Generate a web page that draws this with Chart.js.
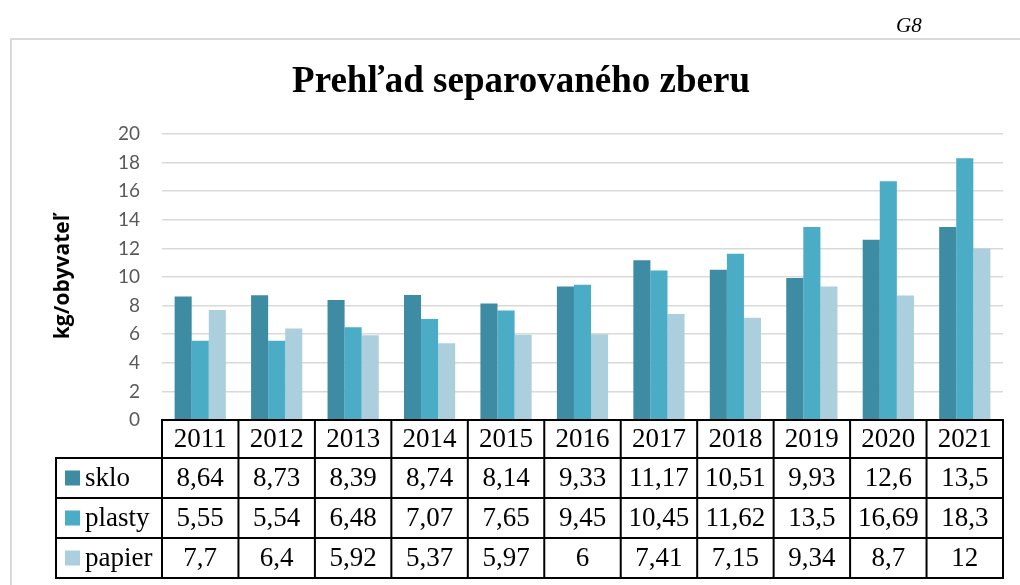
<!DOCTYPE html>
<html><head><meta charset="utf-8">
<script src="https://cdn.jsdelivr.net/npm/chart.js@4"></script>
<style>html,body{margin:0;padding:0;background:#fff;}canvas{display:block;}</style>
</head><body>
<canvas id="c" width="1020" height="585"></canvas>
<script>
const years = ['2011','2012','2013','2014','2015','2016','2017','2018','2019','2020','2021'];
const sklo = [8.64, 8.73, 8.39, 8.74, 8.14, 9.33, 11.17, 10.51, 9.93, 12.6, 13.5];
const plasty = [5.55, 5.54, 6.48, 7.07, 7.65, 9.45, 10.45, 11.62, 13.5, 16.69, 18.3];
const papier = [7.7, 6.4, 5.92, 5.37, 5.97, 6, 7.41, 7.15, 9.34, 8.7, 12];
const seriesNames = ['sklo', 'plasty', 'papier'];
const yTicks = [0, 2, 4, 6, 8, 10, 12, 14, 16, 18, 20];
const titleText = 'Prehľad separovaného zberu';
const yTitle = 'kg/obyvateľ';
const colors = ['#3E8CA3', '#4BACC6', '#ABCFDD'];

function fmt(v){ return String(v).replace('.', ','); }

const overlay = {
  id: 'overlay',
  beforeDraw(chart){
    const ctx = chart.ctx;
    ctx.save();
    ctx.fillStyle = '#fff';
    ctx.fillRect(0,0,chart.width,chart.height);
    // frame
    ctx.strokeStyle = '#d9d9d9';
    ctx.lineWidth = 2;
    ctx.beginPath();
    ctx.moveTo(11, 585); ctx.lineTo(11, 39); ctx.lineTo(1020, 39);
    ctx.stroke();
    // G8
    ctx.fillStyle = '#000';
    ctx.font = 'italic 21px "Liberation Serif"';
    ctx.textAlign = 'left'; ctx.textBaseline = 'alphabetic';
    ctx.fillText('G8', 896, 32);
    // title
    ctx.font = 'bold 37px "Liberation Serif"';
    ctx.textAlign = 'center'; ctx.textBaseline = 'middle';
    ctx.fillText(titleText, 521, 82);
    // y axis title
    ctx.save();
    ctx.translate(63, 277);
    ctx.rotate(-Math.PI/2);
    ctx.font = 'bold 21px "Open Sans"';
    ctx.fillText(yTitle, 0, 0);
    ctx.restore();
    ctx.restore();
  },
  afterDraw(chart){
    const ctx = chart.ctx;
    const xs = chart.scales.x;
    const area = chart.chartArea;
    const n = years.length;
    const w = (area.right - area.left) / n;
    const top = area.bottom;
    const rows = [top, top + 38, top + 78, top + 118, top + 158];
    const leftX = 56;
    ctx.save();
    ctx.strokeStyle = '#000';
    ctx.lineWidth = 2;
    ctx.beginPath();
    rows.forEach((y, i) => {
      ctx.moveTo(i === 0 ? area.left - 1 : leftX - 1, y);
      ctx.lineTo(area.right + 1, y);
    });
    for (let i = 0; i <= n; i++) {
      const x = xs.getPixelForTick(0) - w/2 + i*w;
      ctx.moveTo(x, rows[0]); ctx.lineTo(x, rows[4]);
    }
    ctx.moveTo(leftX, rows[1]); ctx.lineTo(leftX, rows[4]);
    ctx.stroke();
    ctx.fillStyle = '#000';
    ctx.font = '27px "Liberation Serif"';
    ctx.textAlign = 'center'; ctx.textBaseline = 'middle';
    const data = [sklo, plasty, papier];
    for (let i = 0; i < n; i++) {
      const cx = xs.getPixelForTick(i);
      ctx.fillText(years[i], cx, (rows[0]+rows[1])/2 + 1);
      for (let r = 0; r < 3; r++) {
        ctx.fillText(fmt(data[r][i]), cx, (rows[r+1]+rows[r+2])/2 + 1);
      }
    }
    ctx.textAlign = 'left';
    for (let r = 0; r < 3; r++) {
      const cy = (rows[r+1]+rows[r+2])/2;
      ctx.fillStyle = colors[r];
      ctx.fillRect(65, cy - 7.5, 15, 15);
      ctx.fillStyle = '#000';
      ctx.fillText(seriesNames[r], 85, cy + 1);
    }
    ctx.restore();
  }
};

new Chart(document.getElementById('c'), {
  type: 'bar',
  data: {
    labels: years,
    datasets: [
      { label: seriesNames[0], data: sklo, backgroundColor: colors[0] },
      { label: seriesNames[1], data: plasty, backgroundColor: colors[1] },
      { label: seriesNames[2], data: papier, backgroundColor: colors[2] }
    ]
  },
  options: {
    responsive: false,
    animation: false,
    devicePixelRatio: 1,
    layout: { padding: { top: 134, bottom: 165, right: 17, left: 0 } },
    datasets: { bar: { categoryPercentage: 0.67, barPercentage: 1.0 } },
    plugins: { legend: { display: false }, tooltip: { enabled: false }, title: { display: false } },
    scales: {
      x: { display: false, grid: { display: false } },
      y: {
        min: 0, max: 20,
        afterBuildTicks(scale){ scale.ticks = yTicks.map(v => ({ value: v })); },
        afterFit(scale){ scale.width = 162; },
        border: { display: false },
        grid: { color: '#d9d9d9', lineWidth: 1.5, drawTicks: false },
        ticks: { padding: 22, color: '#595959', font: { family: 'Lato', size: 19 } },
        title: { display: false }
      }
    }
  },
  plugins: [overlay]
});
</script>
</body></html>
